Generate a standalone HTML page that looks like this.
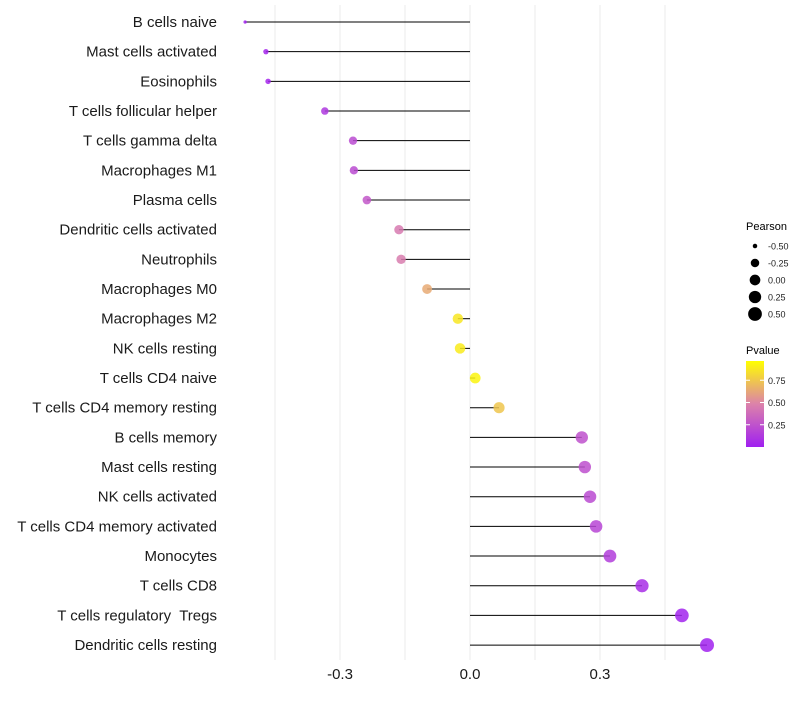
<!DOCTYPE html>
<html><head><meta charset="utf-8"><style>
body{margin:0;background:#fff;font-family:"Liberation Sans",sans-serif}
text{white-space:pre}
</style></head><body>
<svg id="c" width="800" height="700" xmlns="http://www.w3.org/2000/svg"></svg>
<script>
const categories=["B cells naive","Mast cells activated","Eosinophils","T cells follicular helper","T cells gamma delta","Macrophages M1","Plasma cells","Dendritic cells activated","Neutrophils","Macrophages M0","Macrophages M2","NK cells resting","T cells CD4 naive","T cells CD4 memory resting","B cells memory","Mast cells resting","NK cells activated","T cells CD4 memory activated","Monocytes","T cells CD8","T cells regulatory  Tregs","Dendritic cells resting"];
const pearson=[-0.519,-0.471,-0.466,-0.335,-0.270,-0.268,-0.238,-0.164,-0.159,-0.099,-0.028,-0.023,0.012,0.067,0.258,0.265,0.277,0.291,0.323,0.397,0.489,0.547];
const pvalue=[0.01,0.03,0.03,0.12,0.22,0.22,0.28,0.46,0.47,0.66,0.9,0.92,0.96,0.77,0.25,0.24,0.22,0.19,0.15,0.07,0.02,0.01];
const xTicks=[-0.3,0.0,0.3];
const xTickLabels=["-0.3","0.0","0.3"];
const gridVals=[-0.45,-0.3,-0.15,0,0.15,0.3,0.45];
const sizeLegend=[-0.5,-0.25,0,0.25,0.5];
const sizeLegendLabels=["-0.50","-0.25","0.00","0.25","0.50"];
const colorTicks=[0.25,0.5,0.75];

const svg=document.getElementById('c');const NS="http://www.w3.org/2000/svg";
function mk(t,a,p){const e=document.createElementNS(NS,t);for(const k in a)e.setAttribute(k,a[k]);(p||svg).appendChild(e);return e;}
const x=v=>470+v*433.3;
const y=i=>22+i*29.67;
const r=v=>1.5+5.5*Math.sqrt(Math.max(0,(v+0.52)/1.07));
function col(p){const s=[[0,[160,32,240]],[0.5,[220,130,170]],[1,[255,255,0]]];
 let a,b;if(p<=0.5){a=s[0];b=s[1];}else{a=s[1];b=s[2];}
 const t=(p-a[0])/(b[0]-a[0]);const c=a[1].map((v,i)=>Math.round(v+(b[1][i]-v)*t));return `rgb(${c})`;}
gridVals.forEach(g=>{const l=mk('line',{x1:x(g),x2:x(g),y1:5,y2:660,stroke:'#ebebeb','stroke-width':1});
});
categories.forEach((c,i)=>{
 const t=mk('text',{x:217,y:y(i)+5,'text-anchor':'end','font-size':15,fill:'#1a1a1a'});t.textContent=c;
 
 const l=mk('line',{x1:x(0),x2:x(pearson[i]),y1:y(i),y2:y(i),stroke:'#000','stroke-width':1});
 
 const d=mk('circle',{cx:x(pearson[i]),cy:y(i),r:r(pearson[i]),fill:col(pvalue[i]),'fill-opacity':0.85});
 
});
xTicks.forEach((v,i)=>{const t=mk('text',{x:x(v),y:679,'text-anchor':'middle','font-size':15,fill:'#1a1a1a'});t.textContent=xTickLabels[i];
});
let t=mk('text',{x:746,y:230,'font-size':11,fill:'#000'});t.textContent='Pearson';

sizeLegend.forEach((v,i)=>{const cy=246+i*17;const c=mk('circle',{cx:755,cy:cy,r:r(v),fill:'#000'});

const tt=mk('text',{x:768,y:cy+3.5,'font-size':9,fill:'#222'});tt.textContent=sizeLegendLabels[i];
});
t=mk('text',{x:746,y:354,'font-size':11,fill:'#000'});t.textContent='Pvalue';

const defs=mk('defs',{});const g=mk('linearGradient',{id:'gr',x1:0,y1:1,x2:0,y2:0},defs);
[0,0.5,1].forEach(o=>mk('stop',{offset:o,'stop-color':col(o)},g));
const rect=mk('rect',{x:746,y:361,width:18,height:86,fill:'url(#gr)'});

const cy=p=>447-p*89;
colorTicks.forEach(p=>{mk('line',{x1:746,x2:750,y1:cy(p),y2:cy(p),stroke:'#fff'});mk('line',{x1:760,x2:764,y1:cy(p),y2:cy(p),stroke:'#fff'});
const tt=mk('text',{x:768,y:cy(p)+3.5,'font-size':9,fill:'#222'});tt.textContent=p.toFixed(2);
});
</script>
</body></html>
